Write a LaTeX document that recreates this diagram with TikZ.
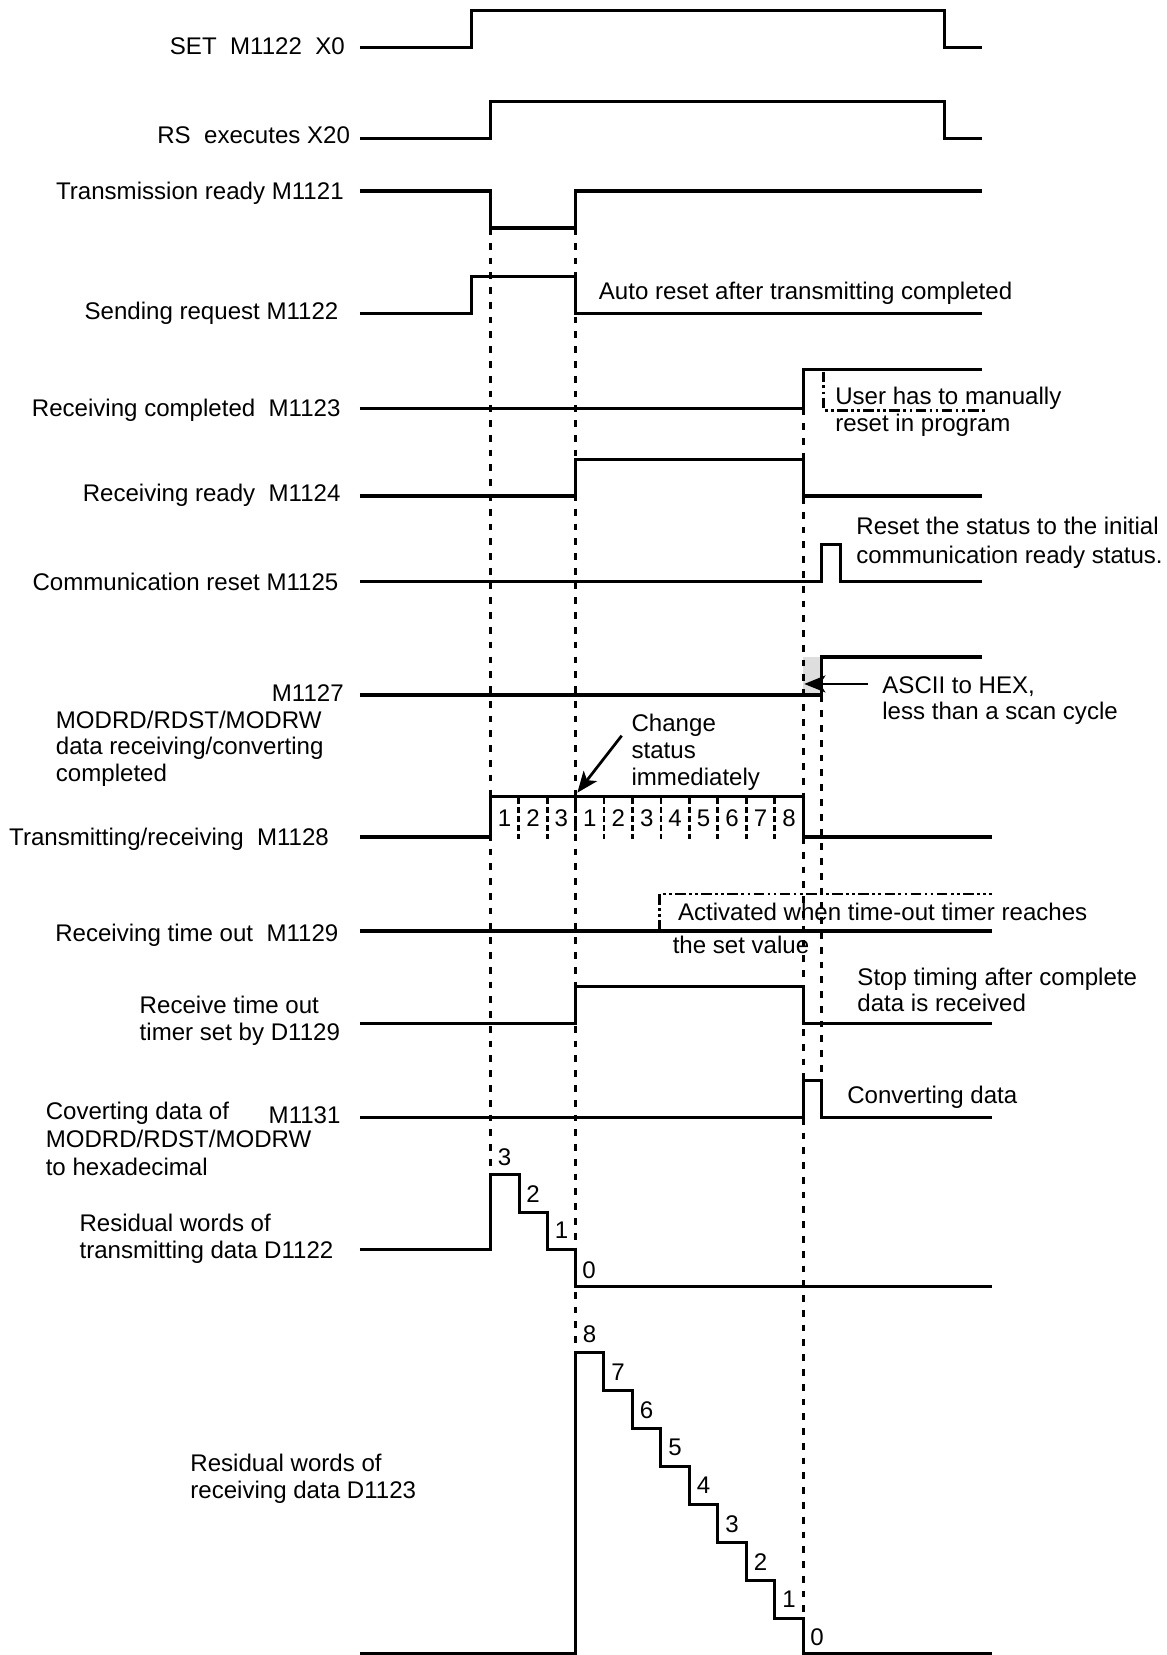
\documentclass[tikz,border=0pt]{standalone}
\usepackage{fontspec}
\setmainfont{Liberation Sans}
\usetikzlibrary{arrows.meta}
\begin{document}
\begin{tikzpicture}[x=0.5pt,y=-0.5pt,
  sig/.style={line width=1.5pt, line join=miter},
  guide/.style={line width=1.4pt, dash pattern=on 3.2pt off 3.8pt},
  cellsep/.style={line width=1.3pt, dash pattern=on 2.8pt off 1.5pt},
  ddot/.style={line width=1.4pt, dash pattern=on 5pt off 1.6pt on 1.3pt off 1.6pt on 1.3pt off 1.6pt},
  arr/.style={line width=1.3pt, -{Stealth[length=10pt,width=8pt,inset=2.5pt]}},
  txt/.style={font=\fontsize{11.4}{13}\selectfont, inner sep=0pt},
  lb/.style={txt, anchor=base east},
  lt/.style={txt, anchor=base west},
  dg/.style={txt, anchor=center},
]
\useasboundingbox (0,0) rectangle (1105,1568);

% grey transition area of M1127
\fill[black!13] (761,622.5) rectangle (778,658.5);

% dotted guide lines
\draw[guide] (464.5,216) -- (464.5,1108);
\draw[guide] (545,216) -- (545,1281);
\draw[guide] (761,387) -- (761,1534);
\draw[guide] (778,659) -- (778,1023);

% signals
\draw[sig] (341,45) -- (447,45) -- (447,10) -- (895,10) -- (895,45) -- (930,45);
\draw[sig] (341,131) -- (465,131) -- (465,96) -- (895,96) -- (895,131) -- (930,131);
\draw[sig] (341,181) -- (465,181) -- (465,216) -- (545,216) -- (545,181) -- (930,181);
\draw[sig] (341,297) -- (447,297) -- (447,262) -- (545,262) -- (545,297) -- (930,297);
\draw[sig] (341,387) -- (761,387) -- (761,350) -- (930,350);
\draw[ddot] (780,352) -- (780,388.5) -- (935,388.5);
\draw[sig] (341,470) -- (545,470) -- (545,435) -- (761,435) -- (761,470) -- (930,470);
\draw[sig] (341,551) -- (778,551) -- (778,516) -- (796,516) -- (796,551) -- (930,551);
\draw[sig] (341,658.5) -- (778,658.5) -- (778,622.5) -- (930,622.5);
\draw[sig] (341,793) -- (464.5,793) -- (464.5,755) -- (761,755) -- (761,793) -- (940,793);
\foreach \k in {1,...,10}
  \draw[cellsep] ({464.5+26.95*\k},756) -- ({464.5+26.95*\k},795);
\draw[sig] (341,882) -- (940,882);
\draw[ddot] (625,882) -- (625,847) -- (940,847);
\draw[sig] (341,970) -- (545,970) -- (545,935) -- (761,935) -- (761,970) -- (940,970);
\draw[sig] (341,1058.5) -- (761,1058.5) -- (761,1023.5) -- (778,1023.5) -- (778,1058.5) -- (940,1058.5);
\draw[sig] (341,1184) -- (465,1184) -- (465,1113) -- (492,1113) -- (492,1149) -- (519,1149)
  -- (519,1184) -- (545,1184) -- (545,1219) -- (940,1219);
\draw[sig] (341,1567) -- (545,1567) -- (545,1281.6) -- (572,1281.6) -- (572,1317.6)
  -- (599,1317.6) -- (599,1353.6) -- (626,1353.6) -- (626,1389.6) -- (653,1389.6)
  -- (653,1425.6) -- (680,1425.6) -- (680,1461.6) -- (707,1461.6) -- (707,1497.6)
  -- (734,1497.6) -- (734,1533.6) -- (761,1533.6) -- (761,1567) -- (940,1567);

% signal labels
\node[lb] (lset) at (327,52) {SET\ \ M1122\ \ X0};
\node[lb] (lrs) at (332,136) {RS\ \ executes X20};
\node[lb] (l1121) at (326,189) {Transmission ready M1121};
\node[lb] (l1122) at (321,303) {Sending request M1122};
\node[lb] (l1123) at (323,395) {Receiving completed\ \ M1123};
\node[lb] (l1124) at (323,475) {Receiving ready\ \ M1124};
\node[lb] (l1125) at (321,559) {Communication reset M1125};
\node[lb] (l1127) at (326,665) {M1127};
\node[lt] (l1127a) at (52.6,690) {MODRD/RDST/MODRW};
\node[lt] (l1127b) at (52.6,715) {data receiving/converting};
\node[lt] (l1127c) at (52.6,740) {completed};
\node[lb] (l1128) at (312,801) {Transmitting/receiving\ \ M1128};
\node[lb] (l1129) at (321,892) {Receiving time out\ \ M1129};
\node[lt] (ltma) at (132,960) {Receive time out};
\node[lt] (ltmb) at (132,986) {timer set by D1129};
\node[lt] (l1131a) at (43,1061) {Coverting data of};
\node[lb] (l1131) at (323,1064) {M1131};
\node[lt] (l1131b) at (43,1087) {MODRD/RDST/MODRW};
\node[lt] (l1131c) at (43,1113.5) {to hexadecimal};
\node[lt] (ld22a) at (75,1167) {Residual words of};
\node[lt] (ld22b) at (75,1192.5) {transmitting data D1122};
\node[lt] (ld23a) at (180,1394) {Residual words of};
\node[lt] (ld23b) at (180,1420) {receiving data D1123};

% annotations
\node[lt] (nauto) at (567,284) {Auto reset after transmitting completed};
\node[lt] (nusera) at (791,383) {User has to manually};
\node[lt] (nuserb) at (791,409) {reset in program};
\node[lt] (nrsta) at (811,506) {Reset the status to the initial};
\node[lt] (nrstb) at (811,534) {communication ready status.};
\node[lt] (nascia) at (835.6,657) {ASCII to HEX,};
\node[lt] (nascib) at (835.6,682) {less than a scan cycle};
\coordinate (asciS) at (822.6,648);
\coordinate (asciT) at (762,648);
\draw[arr] (asciS) -- (asciT);
\node[lt] (nchga) at (598,693) {Change};
\node[lt] (nchgb) at (598,718.5) {status};
\node[lt] (nchgc) at (598,744) {immediately};
\coordinate (chgS) at (589,697);
\coordinate (chgT) at (547,751);
\draw[arr] (chgS) -- (chgT);
\node[lt] (nacta) at (642,872) {Activated when time-out timer reaches};
\node[lt] (nactb) at (637,903) {the set value};
\node[lt] (nstpa) at (812,933.5) {Stop timing after complete};
\node[lt] (nstpb) at (812,958.5) {data is received};
\node[lt] (ncnv) at (802.4,1045.6) {Converting data};

% counters of M1128
\foreach \d [count=\i from 0] in {1,2,3,1,2,3,4,5,6,7,8}
  \node[dg] (c\i) at ({464.5+26.95*(\i+0.5)},775) {\d};

% residual words D1122
\node[dg] (t3) at (478,1096) {3};
\node[dg] (t2) at (505,1131) {2};
\node[dg] (t1) at (532,1166) {1};
\node[dg] (t0) at (558,1203) {0};

% residual words D1123
\foreach \d [count=\j from 0] in {8,7,6,5,4,3,2,1}
  \node[dg] (r\d) at ({545+27*\j+13.5},{1281.6+36*\j-18}) {\d};
\node[dg] (r0) at (774,1551) {0};
\end{tikzpicture}
\end{document}
